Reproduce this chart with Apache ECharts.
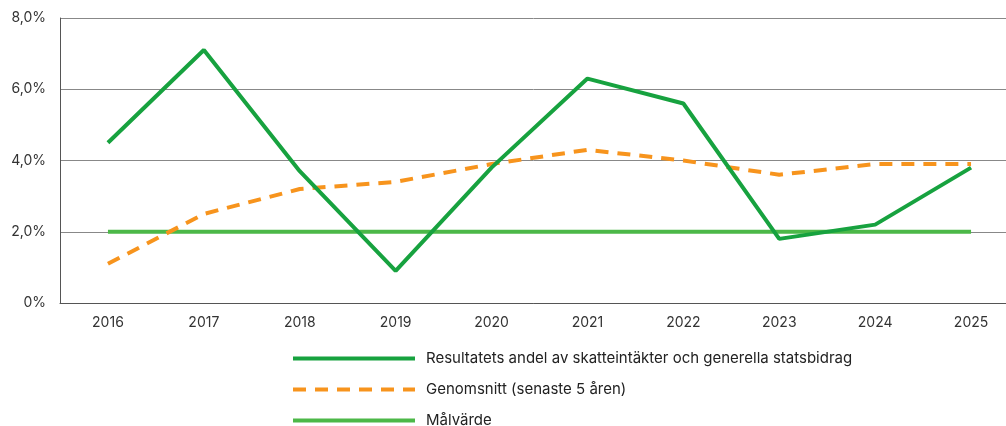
<!DOCTYPE html>
<html>
<head>
<meta charset="utf-8">
<script src="https://cdn.jsdelivr.net/npm/echarts@6/dist/echarts.min.js"></script>
<style>
  html, body { margin: 0; padding: 0; background: #fff; }
  #chart { width: 1006px; height: 426px; }
</style>
</head>
<body>
<div id="chart"></div>
<script>
const years = ["2016", "2017", "2018", "2019", "2020", "2021", "2022", "2023", "2024", "2025"];
const resultat = [4.5, 7.1, 3.7, 0.9, 3.8, 6.3, 5.6, 1.8, 2.2, 3.8];
const genomsnitt = [1.1, 2.5, 3.2, 3.4, 3.9, 4.3, 4.0, 3.6, 3.9, 3.9];
const malvarde = [2, 2, 2, 2, 2, 2, 2, 2, 2, 2];

const chart = echarts.init(document.getElementById("chart"));
const font = "Inter, 'Noto Sans', sans-serif";

chart.setOption({
  animation: false,
  textStyle: { fontFamily: font },
  grid: { left: 60, width: 959, top: 18, height: 285, outerBoundsMode: "none" },
  legend: {
    orient: "vertical",
    left: 286,
    top: 346,
    height: 90,
    itemWidth: 122,
    itemHeight: 14,
    itemGap: 16,
    itemStyle: { opacity: 0 },
    lineStyle: { width: 4 },
    textStyle: { fontSize: 15, color: "#222", fontFamily: font, padding: [0, 0, 0, 6] },
    data: [
      "Resultatets andel av skatteintäkter och generella statsbidrag",
      "Genomsnitt (senaste 5 åren)",
      "Målvärde"
    ]
  },
  xAxis: {
    type: "category",
    data: years,
    boundaryGap: true,
    axisLine: { lineStyle: { color: "#555", width: 1 } },
    axisTick: { show: false },
    axisLabel: { color: "#333", fontSize: 14, margin: 13 }
  },
  yAxis: {
    type: "value",
    min: 0,
    max: 8,
    interval: 2,
    axisLine: { show: true, lineStyle: { color: "#555", width: 1 } },
    splitLine: { lineStyle: { color: "#888", width: 1 } },
    axisLabel: {
      color: "#333",
      fontSize: 14,
      margin: 14,
      formatter: v => v === 0 ? "0%" : v.toFixed(1).replace(".", ",") + "%"
    }
  },
  series: [
    {
      name: "Målvärde",
      type: "line",
      data: malvarde,
      symbol: "none",
      z: 2,
      lineStyle: { color: "#4cb848", width: 4 },
      itemStyle: { color: "#4cb848" }
    },
    {
      name: "Genomsnitt (senaste 5 åren)",
      type: "line",
      data: genomsnitt,
      symbol: "none",
      z: 3,
      lineStyle: { color: "#f7941d", width: 4, type: [13, 9] },
      itemStyle: { color: "#f7941d" }
    },
    {
      name: "Resultatets andel av skatteintäkter och generella statsbidrag",
      type: "line",
      data: resultat,
      symbol: "none",
      z: 4,
      lineStyle: { color: "#17a23f", width: 4 },
      itemStyle: { color: "#17a23f" }
    }
  ]
});
</script>
</body>
</html>
